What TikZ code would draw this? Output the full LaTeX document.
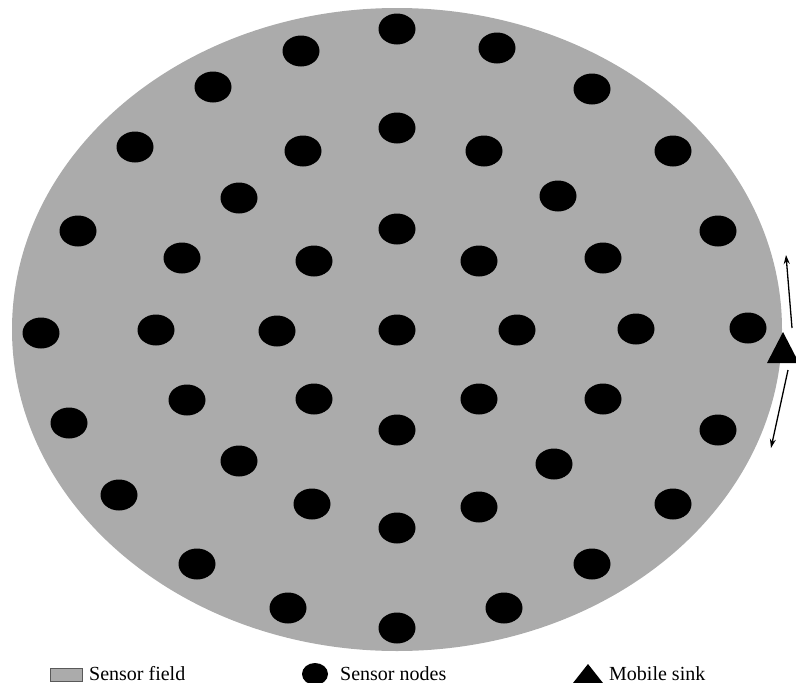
\documentclass[tikz,border=0pt]{standalone}
\usepackage{fontspec}
\setmainfont{Liberation Serif}
\usetikzlibrary{shapes.geometric,arrows.meta}
\definecolor{fieldgray}{HTML}{ABABAB}
\tikzset{
  sensor/.style={ellipse, fill=black, minimum width=37pt, minimum height=31pt, inner sep=0pt},
  legsensor/.style={ellipse, fill=black, minimum width=26pt, minimum height=22pt, inner sep=0pt},
  legtext/.style={anchor=base west, inner sep=0pt, font=\fontsize{20pt}{22pt}\selectfont},
  move/.style={line width=1.3pt, -{Stealth[length=9pt,width=6pt]}}
}
\begin{document}
\begin{tikzpicture}[x=1pt,y=-1pt]
\useasboundingbox (0,0) rectangle (796,683);
\clip (0,0) rectangle (796,683);
% sensor field
\fill[fieldgray] (397,329.5) ellipse [x radius=385, y radius=321.5];
% sensor nodes
\foreach \n/\x/\y in {
 s01/397/29,
 s02/301/51, s03/497/48,
 s04/213/87, s05/592/89,
 s06/135/147, s07/303/151, s08/397/128, s09/484/151, s10/673/151,
 s11/239/198, s12/558/196,
 s13/78/231, s14/182/258, s15/314/261, s16/397/229, s17/479/261, s18/603/258, s19/718/231,
 s20/41/333, s21/156/330, s22/277/331, s23/397/330, s24/517/330, s25/636/329, s26/748/328,
 s27/69/423, s28/187/400, s29/314/399, s30/397/430, s31/479/399, s32/603/399, s33/718/430,
 s34/239/461, s35/554/464,
 s36/119/495, s37/312/504, s38/397/528, s39/479/507, s40/673/504,
 s41/197/564, s42/592/564,
 s43/288/608, s44/504/608,
 s45/397/628}
 \node[sensor] (\n) at (\x,\y) {};
% mobile sink
\coordinate (sinkL) at (767,363);
\coordinate (sinkT) at (783,332);
\coordinate (sinkR) at (799,363);
\fill[black] (sinkL) -- (sinkT) -- (sinkR) -- cycle;
\coordinate (upS) at (792,328);
\coordinate (upE) at (786,255);
\coordinate (dnS) at (788,370);
\coordinate (dnE) at (771,448);
\draw[move] (upS) -- (upE);
\draw[move] (dnS) -- (dnE);
% legend
\node[draw=gray!70!black, fill=fieldgray, line width=0.8pt, minimum width=32pt, minimum height=13pt, inner sep=0pt] (legfield) at (66.5,674.5) {};
\node[legtext] (legfieldtxt) at (89,680) {Sensor field};
\node[legsensor] (legnode) at (315,674) {};
\node[legtext] (legnodetxt) at (340,680) {Sensor nodes};
\coordinate (legsinkL) at (573,683);
\coordinate (legsinkT) at (588,664);
\coordinate (legsinkR) at (603,683);
\fill[black] (legsinkL) -- (legsinkT) -- (legsinkR) -- cycle;
\node[legtext] (legsinktxt) at (609,680) {Mobile sink};
\end{tikzpicture}
\end{document}
